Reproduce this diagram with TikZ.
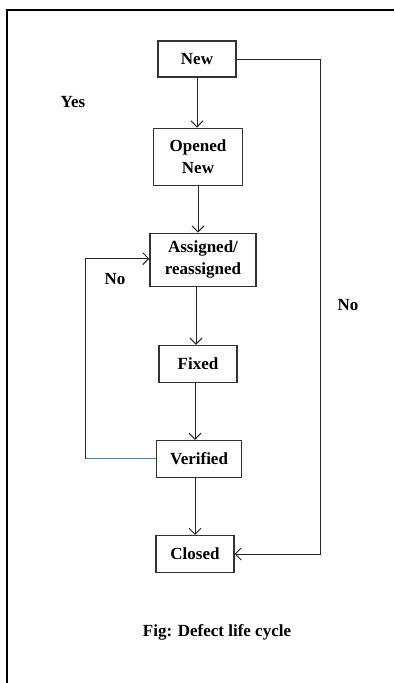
\documentclass[tikz,border=0pt]{standalone}
\usepackage{fontspec}
\setmainfont{Liberation Serif}
\usepackage{tikz}
\usetikzlibrary{positioning,arrows.meta}

\definecolor{loopblue}{RGB}{79,129,189}

\tikzset{
	state/.style={draw=black!80,line width=1.1pt,minimum width=78pt,minimum height=37pt,
		align=center,inner sep=2pt,font=\fontsize{17}{22}\selectfont\bfseries},
	flow/.style={draw=black!85,line width=1pt,-{Straight Barb[length=6pt,width=12pt]}},
	plain/.style={draw=black!85,line width=1pt},
	note/.style={font=\fontsize{17}{20}\selectfont\bfseries}
}

\begin{document}
\begin{tikzpicture}[x=1pt,y=1pt]
			\useasboundingbox (0,0) rectangle (394,-683);
			\draw[line width=1.8pt] (7,-683) -- (7,-10) -- (394,-10);
			\node[state,minimum height=36pt] (new) at (197,-59) {New};
			\node[state,minimum width=89pt,minimum height=57pt,below=50pt of new,xshift=1pt] (opened) {Opened\\New};
			\node[state,minimum width=106pt,minimum height=53pt,below=47pt of opened,xshift=5pt] (assigned) {Assigned/\\reassigned};
			\node[state,below=58pt of assigned,xshift=-5pt] (fixed) {Fixed};
			\node[state,minimum width=85pt,below=57pt of fixed,xshift=1pt] (verified) {Verified};
			\node[state,below=57pt of verified,xshift=-4pt] (closed) {Closed};
			\draw[flow] (new.south) -- (new.south |- opened.north);
			\draw[flow] (opened.south) -- (opened.south |- assigned.north);
			\draw[flow] ([xshift=-7pt]assigned.south) -- ([xshift=-7pt]assigned.south |- fixed.north);
			\draw[flow] ([xshift=-3pt]fixed.south) -- ([xshift=-3pt]fixed.south |- verified.north);
			\draw[flow] ([xshift=-4pt]verified.south) -- ([xshift=-4pt]verified.south |- closed.north);
			\coordinate (back) at ([xshift=-70pt]verified.west);
			\draw[draw=loopblue,line width=1pt] (verified.west) -- (back);
			\draw[flow] (back) |- ([yshift=1pt]assigned.west);
			\coordinate (skip) at ([xshift=84pt]new.east);
			\draw[plain] (new.east) -- (skip);
			\draw[flow] (skip) |- (closed.east);
			\node[note] (yes) at (73,-102) {Yes};
			\node[note] (noleft) at (115,-279) {No};
			\node[note] (noright) at (348,-305) {No};
			\node[note] (caption) at (217,-632) {Fig: Defect life cycle};
\end{tikzpicture}
\end{document}
